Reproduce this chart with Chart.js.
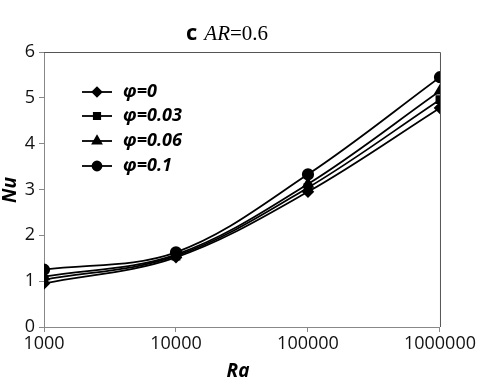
<!DOCTYPE html>
<html>
<head>
<meta charset="utf-8">
<script src="https://cdn.jsdelivr.net/npm/chart.js@4.4.0/dist/chart.umd.min.js"></script>
<style>
  html, body { margin: 0; padding: 0; background: #fff; }
  #wrap { width: 477px; height: 385px; }
</style>
</head>
<body>
<div id="wrap"><canvas id="nuChart" width="477" height="385"></canvas></div>
<script>
// Data
const raValues = [1000, 10000, 100000, 1000000];
const nuPhi0 = [0.95, 1.52, 2.95, 4.78];
const nuPhi003 = [1.03, 1.55, 3.04, 4.96];
const nuPhi006 = [1.10, 1.58, 3.12, 5.15];
const nuPhi01 = [1.25, 1.63, 3.33, 5.45];
const seriesLabels = ['φ=0', 'φ=0.03', 'φ=0.06', 'φ=0.1'];
const xTicks = [1000, 10000, 100000, 1000000];
const yTicks = [0, 1, 2, 3, 4, 5, 6];

const markerStyles = ['rectRot', 'rect', 'triangle', 'circle'];
const markerSizes = [5, 5, 5.5, 5.2];
const allSeries = [nuPhi0, nuPhi003, nuPhi006, nuPhi01];

function makeDataset(i) {
    return {
        label: seriesLabels[i],
        data: raValues.map((ra, k) => ({ x: ra, y: allSeries[i][k] })),
        borderColor: '#000',
        backgroundColor: '#000',
        borderWidth: 1.8,
        pointStyle: markerStyles[i],
        pointRadius: markerSizes[i],
        pointBackgroundColor: '#000',
        pointBorderColor: '#000',
        tension: 0.35,
        fill: false
    };
}

// frame, title, axis titles and the legend drawn by hand
const decorPlugin = {
    id: 'decor',
    afterDraw(chart) {
        const ctx = chart.ctx;
        const a = chart.chartArea;
        ctx.save();
        // top and right frame lines
        ctx.strokeStyle = '#555';
        ctx.lineWidth = 1;
        ctx.beginPath();
        ctx.moveTo(a.left, a.top + 0.5);
        ctx.lineTo(a.right + 0.5, a.top + 0.5);
        ctx.lineTo(a.right + 0.5, a.bottom);
        ctx.stroke();

        // title: "c AR=0.6"
        ctx.fillStyle = '#000';
        ctx.textBaseline = 'alphabetic';
        ctx.textAlign = 'left';
        let x = 186;
        const ty = 40;
        ctx.font = 'bold 22px "Open Sans"';
        ctx.fillText('c', x, ty);
        x += ctx.measureText('c').width + 7;
        ctx.font = 'italic 21px "Liberation Serif"';
        ctx.fillText('AR', x, ty);
        x += ctx.measureText('AR').width;
        ctx.font = '21px "Liberation Serif"';
        ctx.fillText('=0.6', x, ty);

        // axis titles
        ctx.font = 'bold italic 19px "Open Sans"';
        ctx.textAlign = 'center';
        ctx.textBaseline = 'middle';
        ctx.fillText('Ra', 238, 372);
        ctx.save();
        ctx.translate(11, 190);
        ctx.rotate(-Math.PI / 2);
        ctx.fillText('Nu', 0, 0);
        ctx.restore();

        // legend
        const rows = [92, 116, 141, 166];
        const legendSizes = [4.5, 4.5, 5, 4.5];
        chart.data.datasets.forEach((ds, i) => {
            const y = rows[i];
            ctx.strokeStyle = '#000';
            ctx.lineWidth = 1.8;
            ctx.beginPath();
            ctx.moveTo(82, y);
            ctx.lineTo(112, y);
            ctx.stroke();
            ctx.fillStyle = '#000';
            Chart.helpers.drawPoint(ctx, {
                pointStyle: ds.pointStyle,
                radius: legendSizes[i],
                borderWidth: 1
            }, 97, y);
            ctx.fillStyle = '#000';
            ctx.font = 'bold italic 18px "Open Sans"';
            ctx.textAlign = 'left';
            ctx.textBaseline = 'middle';
            ctx.fillText(ds.label, 123, y);
        });
        ctx.restore();
    }
};

const ctx = document.getElementById('nuChart').getContext('2d');
const nuChart = new Chart(ctx, {
    type: 'line',
    data: {
        datasets: [0, 1, 2, 3].map(makeDataset)
    },
    options: {
        responsive: false,
        animation: false,
        layout: { padding: { top: 52, right: 37, left: 0, bottom: 0 } },
        scales: {
            x: {
                type: 'logarithmic',
                min: 1000,
                max: 1000000,
                afterBuildTicks: function(scale) {
                    scale.ticks = xTicks.map(v => ({ value: v }));
                },
                afterFit: function(scale) {
                    scale.height = 58;
                },
                border: { color: '#888', width: 1 },
                grid: {
                    display: true,
                    drawOnChartArea: false,
                    drawTicks: true,
                    tickLength: 5,
                    color: '#888'
                },
                ticks: {
                    color: '#111',
                    font: { family: 'Open Sans', size: 18 },
                    padding: 1,
                    maxRotation: 0,
                    autoSkip: false,
                    callback: function(value) {
                        return String(value);
                    }
                }
            },
            y: {
                min: 0,
                max: 6,
                afterBuildTicks: function(scale) {
                    scale.ticks = yTicks.map(v => ({ value: v }));
                },
                afterFit: function(scale) {
                    scale.width = 44;
                },
                border: { color: '#888', width: 1 },
                grid: {
                    display: true,
                    drawOnChartArea: false,
                    drawTicks: true,
                    tickLength: 5,
                    color: '#888'
                },
                ticks: {
                    color: '#111',
                    font: { family: 'Open Sans', size: 18 },
                    padding: 4
                }
            }
        },
        plugins: {
            legend: { display: false },
            title: { display: false },
            tooltip: { enabled: false }
        }
    },
    plugins: [decorPlugin]
});
</script>
</body>
</html>
